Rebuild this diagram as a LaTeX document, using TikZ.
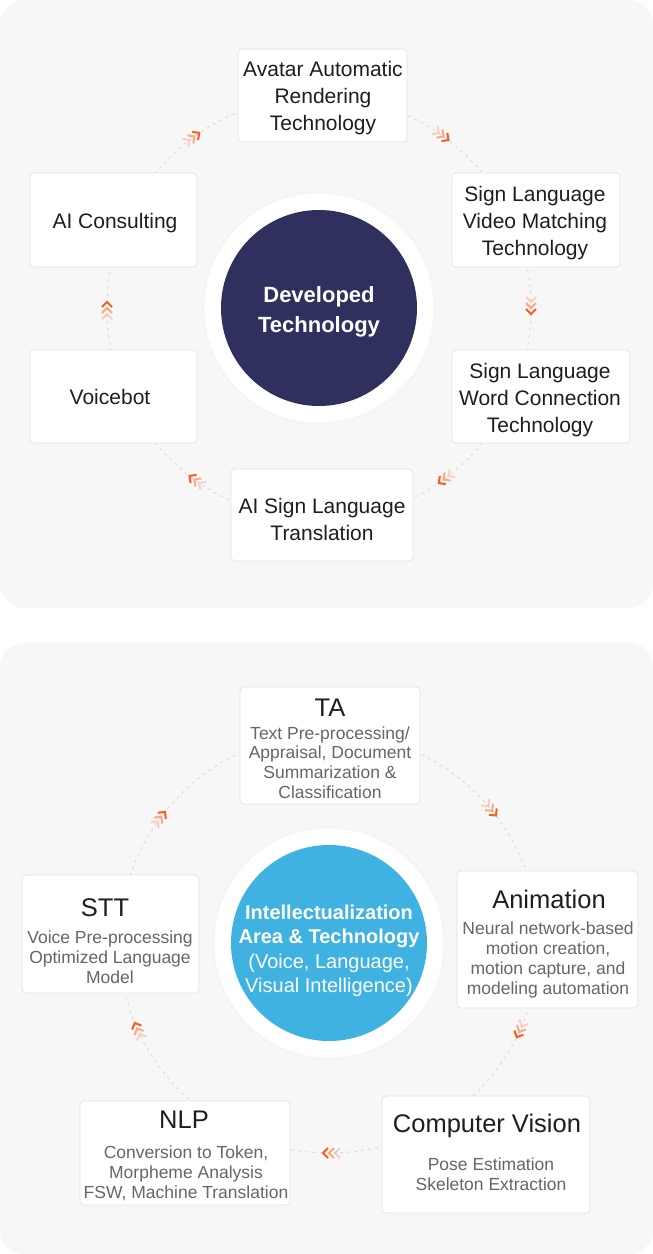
\documentclass[tikz,border=0pt]{standalone}
\usepackage{fontspec}
\setmainfont{Liberation Sans}
\usetikzlibrary{positioning}
\definecolor{panelgray}{HTML}{F7F7F7}
\definecolor{boxline}{HTML}{E3E3E3}
\definecolor{hubnavy}{HTML}{30305E}
\definecolor{hubblue}{HTML}{3FB2E1}
\definecolor{chevorange}{HTML}{FF5A1E}
\definecolor{ringgray}{HTML}{DCDCDC}
\definecolor{bodygray}{HTML}{666666}
\definecolor{inkblack}{HTML}{1E1E1E}
\tikzset{
  panel/.style={fill=panelgray,rounded corners=24pt},
  ring/.style={draw=ringgray,line width=1pt,dash pattern=on 3pt off 4pt},
  chev/.style={draw=chevorange,line width=2pt},
  techbox/.style={draw=boxline,line width=0.8pt,fill=white,rounded corners=4pt,inner sep=0pt},
  techtext/.style={inner sep=0pt,align=center,text=inkblack,font=\fontsize{21}{27}\selectfont},
  areabox/.style={draw=boxline,line width=0.8pt,fill=white,rounded corners=4pt,inner sep=0pt},
  areatitle/.style={inner sep=0pt,text=inkblack,font=\fontsize{25.5}{28}\selectfont},
  areabody/.style={inner sep=0pt,align=center,text=bodygray,font=\fontsize{17.5}{19.8}\selectfont},
  hub/.style={circle,inner sep=0pt,minimum size=196pt},
  hubtext/.style={inner sep=0pt,align=center,text=white},
}
\begin{document}
\begin{tikzpicture}[x=1pt,y=-1pt]
\useasboundingbox[fill=white] (0,0) rectangle (653,1254);
% panels
\fill[panel] (0,0) rectangle (653,608);
\fill[panel] (0,643) rectangle (653,1254);

% developed technology: ring and chevrons
\draw[ring] (319,308) circle[radius=212pt];
\foreach \a in {180,126,54,0,-54,-126}
{
  \begin{scope}[shift={(319,308)},rotate=\a]
    \draw[chev,opacity=.25] (207,-11)--(212,-6)--(217,-11);
    \draw[chev,opacity=.5] (207,-5)--(212,0)--(217,-5);
    \draw[chev] (207,1)--(212,6)--(217,1);
  \end{scope}
}
\node[techbox,minimum width=169pt,minimum height=93pt] (avatar) at (322.5,95.5) {};
\node[techtext] (avatartext) at (323,98.5) {Avatar Automatic\\Rendering\\Technology};
\node[techbox,minimum width=168pt,minimum height=94pt] (videomatch) at (536,220) {};
\node[techtext] (videomatchtext) at (535,223.5) {Sign Language\\Video Matching\\Technology};
\node[techbox,minimum width=178pt,minimum height=93pt] (wordconn) at (541,396.5) {};
\node[techtext] (wordconntext) at (540,400.5) {Sign Language\\Word Connection\\Technology};
\node[techbox,minimum width=182pt,minimum height=92pt] (signtrans) at (322,515) {};
\node[techtext] (signtranstext) at (322,519.5) {AI Sign Language\\Translation};
\node[techbox,minimum width=167pt,minimum height=93pt] (voicebot) at (113.5,396.5) {};
\node[techtext] (voicebottext) at (110,396.5) {Voicebot};
\node[techbox,minimum width=167pt,minimum height=94pt] (consulting) at (113.5,220) {};
\node[techtext] (consultingtext) at (115,223) {AI Consulting};

\fill[black!4] (319,308) circle[radius=117pt];
\fill[white] (319,308) circle[radius=114.5pt];
\node[hub,fill=hubnavy] (devtech) at (319,308) {};
\node[hubtext,font=\bfseries\fontsize{22}{30}\selectfont] (devtechtext) at (319,312) {Developed\\Technology};

% intellectualization area: ring and chevrons
\draw[ring] (329,943) circle[radius=210pt];
\foreach \a in {143,39,-25,-90,-156}
{
  \begin{scope}[shift={(329,943)},rotate=\a]
    \draw[chev,opacity=.25] (205,-11)--(210,-6)--(215,-11);
    \draw[chev,opacity=.5] (205,-5)--(210,0)--(215,-5);
    \draw[chev] (205,1)--(210,6)--(215,1);
  \end{scope}
}
\node[areabox,minimum width=180pt,minimum height=117pt] (ta) at (330,745.5) {};
\node[areatitle] (tatitle) at (330,708) {TA};
\node[areabody] (tabody) at (330,762.5) {Text Pre-processing/\\Appraisal, Document\\Summarization \&\\Classification};

\node[areabox,minimum width=181pt,minimum height=137pt] (anim) at (547.5,939.5) {};
\node[areatitle] (animtitle) at (549,899) {Animation};
\node[areabody] (animbody) at (548,960) {Neural network-based\\motion creation,\\motion capture, and\\modeling automation};

\node[areabox,minimum width=208pt,minimum height=117pt] (vision) at (486,1154.5) {};
\node[areatitle] (visiontitle) at (487,1126) {Computer Vision};
\node[areabody] (visionbody) at (491,1174.5) {Pose Estimation\\Skeleton Extraction};

\node[areabox,minimum width=210pt,minimum height=104pt] (nlp) at (185,1153) {};
\node[areatitle] (nlptitle) at (184,1120) {NLP};
\node[areabody] (nlpbody) at (186,1173.5) {Conversion to Token,\\Morpheme Analysis\\FSW, Machine Translation};

\node[areabox,minimum width=177pt,minimum height=118pt] (stt) at (110.5,934) {};
\node[areatitle] (stttitle) at (105,908) {STT};
\node[areabody] (sttbody) at (110,957.5) {Voice Pre-processing\\Optimized Language\\Model};

\fill[black!4] (329,943) circle[radius=117pt];
\fill[white] (329,943) circle[radius=114.5pt];
\node[hub,fill=hubblue] (intel) at (329,943) {};
\node[hubtext,font=\fontsize{20}{24}\selectfont] (inteltext) at (329,951)
  {\bfseries Intellectualization\\\bfseries Area \& Technology\\[1pt]\mdseries (Voice, Language,\\\mdseries Visual Intelligence)};
\end{tikzpicture}
\end{document}
